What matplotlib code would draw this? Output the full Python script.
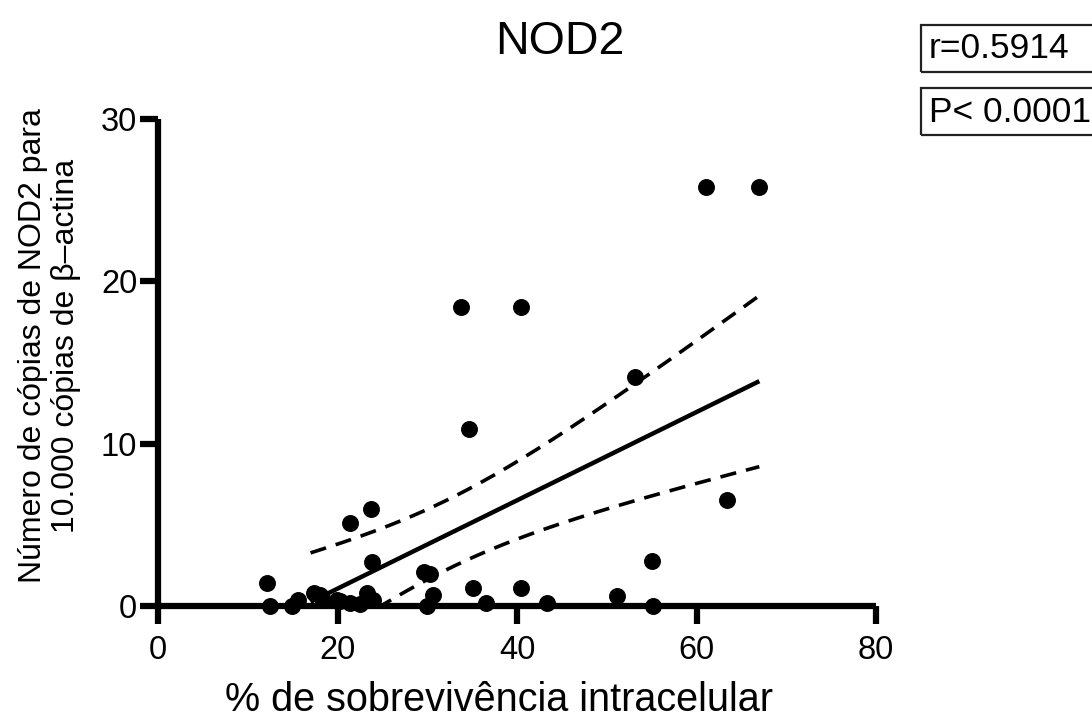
import numpy as np
import matplotlib
matplotlib.use('Agg')
import matplotlib.pyplot as plt
from matplotlib.patches import Rectangle

plt.rcParams['font.family'] = ['Liberation Sans', 'DejaVu Sans']

# % de sobrevivência intracelular
survival = [12.1, 12.5, 14.9, 15.6, 17.4, 18.0, 18.3, 19.9, 20.3, 21.4,
            21.4, 22.5, 23.3, 24.0, 23.7, 23.8, 29.6, 30.3, 30.6, 30.0,
            33.8, 34.7, 35.1, 36.6, 40.4, 40.5, 43.3, 51.1, 53.1, 55.0,
            55.1, 61.1, 63.4, 67.0]
# copias de NOD2 / 10.000 copias de beta-actina
nod2 = [1.4, 0.0, 0.0, 0.4, 0.8, 0.7, 0.5, 0.4, 0.3, 0.2,
        5.1, 0.1, 0.8, 0.4, 6.0, 2.7, 2.1, 2.0, 0.7, 0.0,
        18.4, 10.9, 1.1, 0.2, 18.4, 1.1, 0.2, 0.6, 14.1, 2.8,
        0.0, 25.8, 6.5, 25.8]
fit_start = 17.0

x_ticks = [0, 20, 40, 60, 80]
y_ticks = [0, 10, 20, 30]
r_text = "r=0.5914"
p_text = "P< 0.0001"

x = np.array(survival)
y = np.array(nod2)

# linear regression + 95% confidence band
n = len(x)
slope, intercept = np.polyfit(x, y, 1)
resid = y - (slope * x + intercept)
s = np.sqrt(np.sum(resid ** 2) / (n - 2))
t_crit = 2.037  # t(0.975, n-2)
xf = np.linspace(fit_start, x.max(), 200)
yf = slope * xf + intercept
se = s * np.sqrt(1.0 / n + (xf - x.mean()) ** 2 / np.sum((x - x.mean()) ** 2))

fig = plt.figure(figsize=(10.92, 7.17), dpi=100)
ax = fig.add_axes([158 / 1092, 111 / 717, 718 / 1092, 487 / 717])

ax.plot(xf, yf, color='black', lw=3.2, solid_capstyle='butt')
ax.plot(xf, yf + t_crit * se, color='black', lw=2.6, dashes=(4.5, 2.8))
ax.plot(xf, yf - t_crit * se, color='black', lw=2.6, dashes=(4.5, 2.8))
ax.scatter(x, y, s=125, color='black', zorder=5, clip_on=False)

ax.set_xlim(0, 80)
ax.set_ylim(0, 30)
ax.set_xticks(x_ticks)
ax.set_yticks(y_ticks)
ax.spines['top'].set_visible(False)
ax.spines['right'].set_visible(False)
for sp in ['left', 'bottom']:
    ax.spines[sp].set_linewidth(4.5)
    ax.spines[sp].set_capstyle('butt')
ax.tick_params(axis='x', direction='out', length=13, width=4.5, labelsize=23.5, pad=8)
ax.tick_params(axis='y', direction='out', length=13, width=4.5, labelsize=23.5, pad=2)

ax.set_xlabel("% de sobrevivência intracelular", fontsize=28.5)
ax.xaxis.set_label_coords(0.475, -0.153)
ax.set_ylabel("Número de cópias de NOD2 para\n10.000 cópias de β–actina",
              fontsize=23, linespacing=1.12)
ax.yaxis.set_label_coords(-0.107, 0.535)
ax.set_title("NOD2", fontsize=33.5, pad=47, x=0.56)

# r / P boxes at top right
for yb, txt in [(645, r_text), (582, p_text)]:
    fig.patches.append(Rectangle((921 / 1092, yb / 717), 200 / 1092, 47 / 717,
                                 transform=fig.transFigure, fill=False,
                                 lw=1.6, edgecolor='#222222'))
    fig.text(929 / 1092, (yb + 23) / 717, txt, fontsize=25.5, va='center', ha='left')

fig.savefig('out.png', dpi=100)
